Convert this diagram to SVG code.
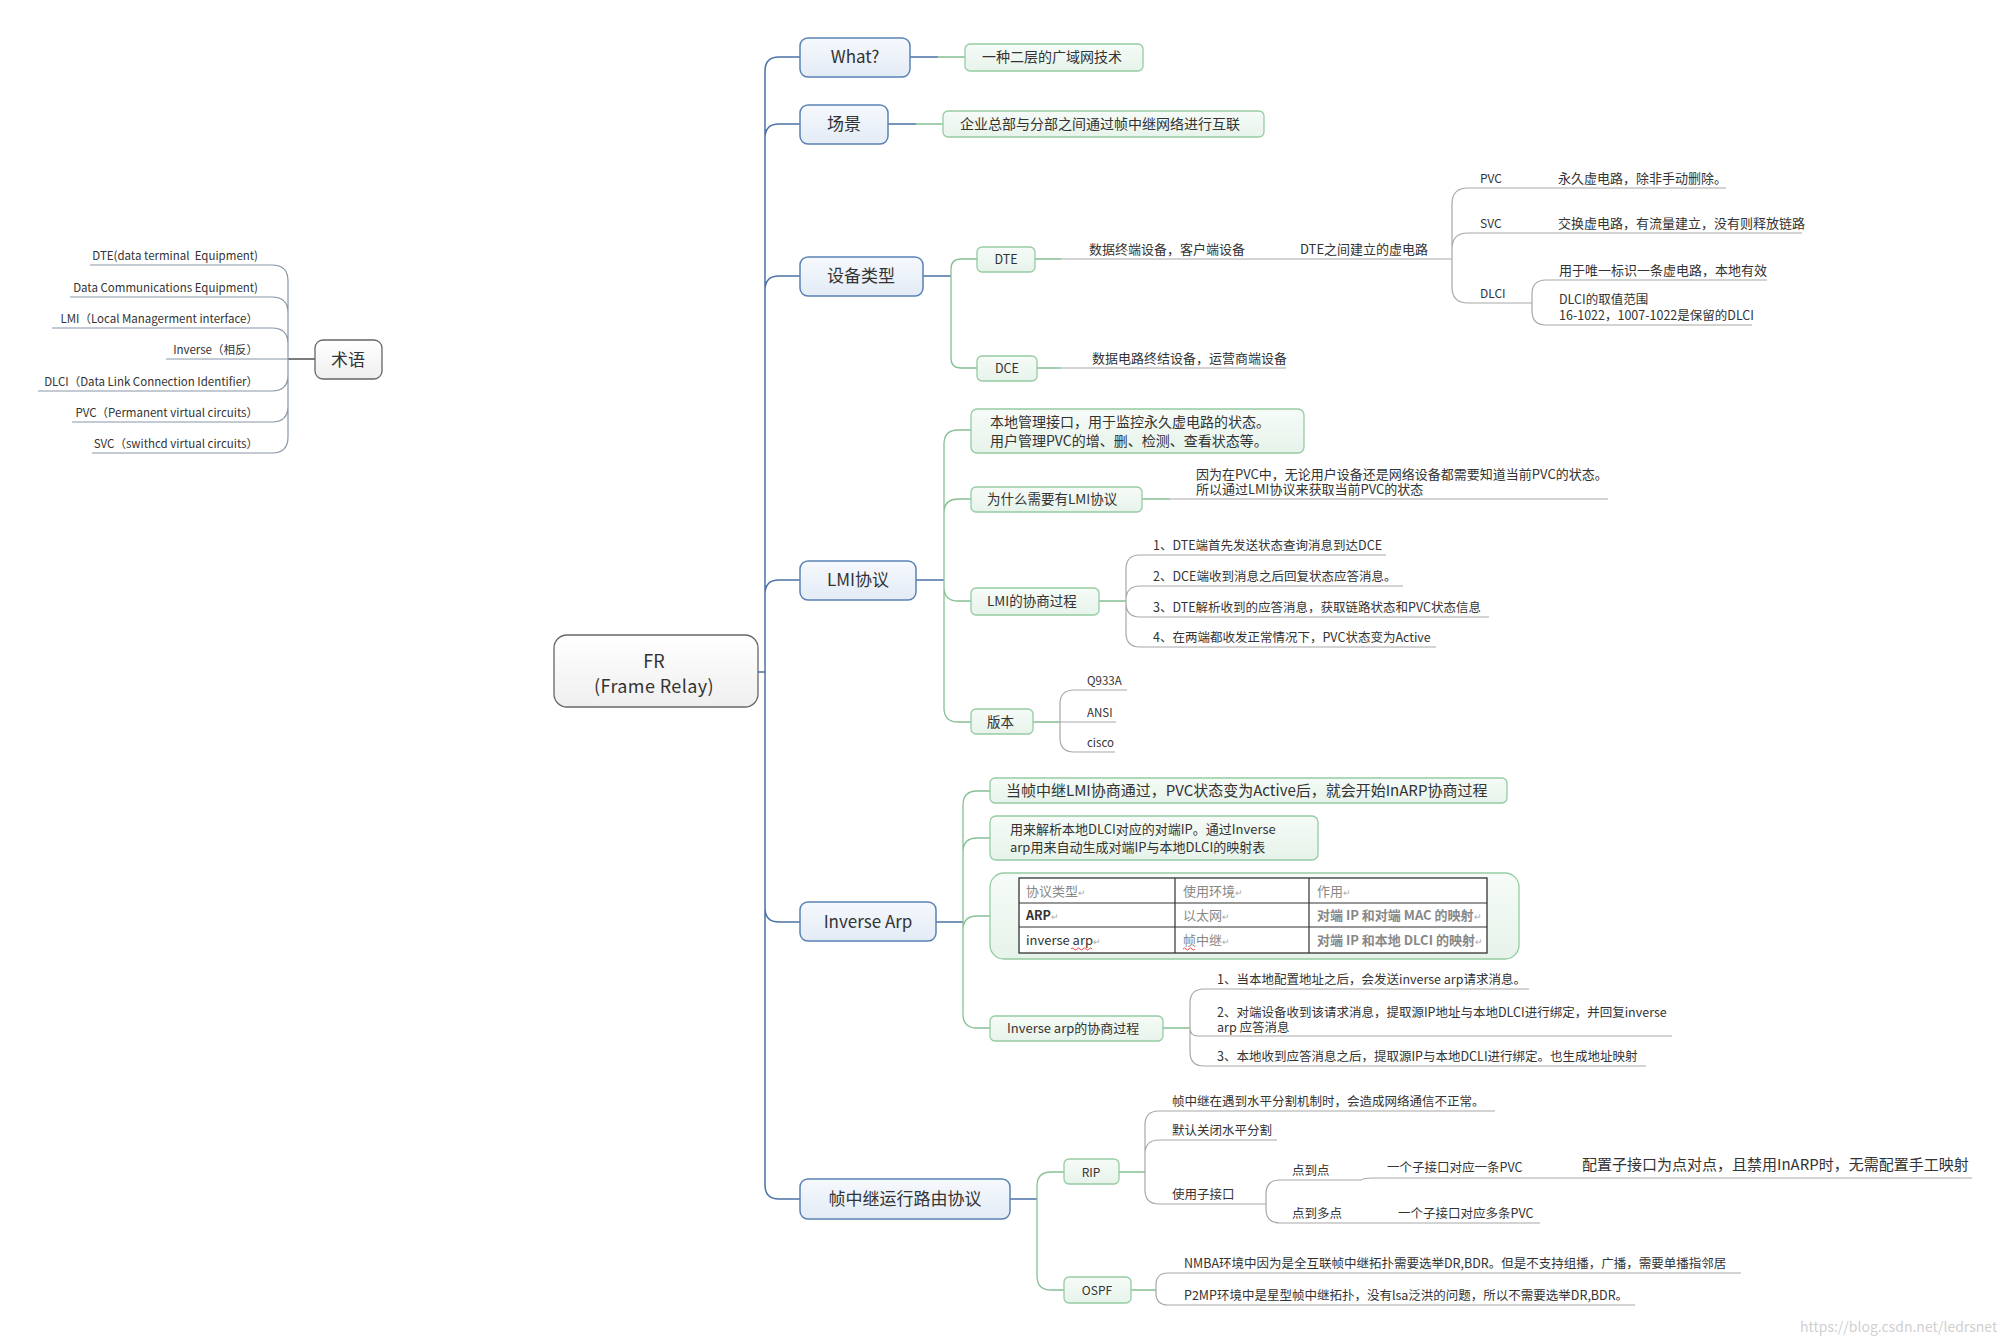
<svg xmlns="http://www.w3.org/2000/svg" width="2010" height="1344" viewBox="0 0 2010 1344">
<defs>
<linearGradient id="gb" x1="0" y1="0" x2="0" y2="1"><stop offset="0" stop-color="#f6f9fd"/><stop offset="1" stop-color="#e3ebf6"/></linearGradient>
<linearGradient id="gg" x1="0" y1="0" x2="0" y2="1"><stop offset="0" stop-color="#f6fbf7"/><stop offset="1" stop-color="#e6f3ea"/></linearGradient>
<linearGradient id="gw" x1="0" y1="0" x2="0" y2="1"><stop offset="0" stop-color="#ffffff"/><stop offset="1" stop-color="#efefef"/></linearGradient>
</defs>
<style>
text{font-family:"Noto Sans CJK SC","Noto Sans",sans-serif;fill:#333;}
.bb{fill:url(#gb);stroke:#5a82b4;stroke-width:1.5;}
.gb{fill:url(#gg);stroke:#95cca3;stroke-width:1.3;}
.wb{fill:url(#gw);stroke:#666;stroke-width:1.3;}
.mt{font-size:17px;text-anchor:middle;}
.gt{font-size:14px;}
.lt{font-size:12.5px;}
.st{font-size:12px;}
.cb{fill:none;stroke:#4a72a6;stroke-width:1.5;}
.cg{fill:none;stroke:#86c095;stroke-width:1.3;}
.cy{fill:none;stroke:#a8a8a8;stroke-width:1.2;}
.cs{fill:none;stroke:#8796a8;stroke-width:1.2;}
.tg{fill:#888;font-size:13px;}
</style>

<g id="connectors">
<!-- trunk -->
<path class="cb" d="M758 672H765M765 71V1185M765 71Q765 57 779 57H800M765 138Q765 124 779 124H800M765 290Q765 276 779 276H800M765 594Q765 580 779 580H800M765 908Q765 922 779 922H800M765 1185Q765 1199 779 1199H800"/>
<!-- what / scene -->
<path class="cb" d="M910 57H938M888 124H916"/>
<path class="cg" d="M938 57H965M916 124H943"/>
<!-- terms -->
<path d="M315 359H288" fill="none" stroke="#333" stroke-width="1.3"/>
<path class="cs" d="M288 281V437M288 281Q288 265 272 265H90M288 313Q288 297 272 297H70M288 344Q288 328 272 328H52M288 359H166M288 375Q288 391 272 391H38M288 406Q288 422 272 422H72M288 437Q288 453 272 453H92"/>
<!-- device types -->
<path class="cb" d="M923 276H951"/>
<path class="cg" d="M951 269V358M951 269Q951 259 961 259H977M951 358Q951 368 961 368H977M1035 259H1061M1037 368H1061"/>
<path class="cy" d="M1061 259H1452M1061 368H1286M1452 204V287M1452 204Q1452 188 1468 188H1726M1452 249Q1452 233 1468 233H1802M1452 287Q1452 303 1468 303H1532M1532 294V311M1532 294Q1532 280 1546 280H1767M1532 311Q1532 325 1546 325H1752"/>
<!-- LMI -->
<path class="cb" d="M916 580H944"/>
<path class="cg" d="M944 444V708M944 444Q944 430 958 430H971M944 513Q944 499 958 499H971M944 587Q944 601 958 601H971M944 708Q944 722 958 722H971M1142 499H1170M1099 601H1126M1033 722H1060"/>
<path class="cy" d="M1170 499H1608M1126 569V633M1126 569Q1126 555 1140 555H1386M1126 600Q1126 586 1140 586H1403M1126 603Q1126 617 1140 617H1489M1126 633Q1126 647 1140 647H1436M1060 704V738M1060 704Q1060 690 1074 690H1127M1060 722H1116M1060 738Q1060 752 1074 752H1115"/>
<!-- Inverse Arp -->
<path class="cb" d="M936 922H963"/>
<path class="cg" d="M963 805V1014M963 805Q963 791 977 791H990M963 852Q963 838 977 838H990M963 930Q963 916 977 916H990M963 1014Q963 1028 977 1028H990M1163 1028H1190"/>
<path class="cy" d="M1190 1003V1052M1190 1003Q1190 989 1204 989H1529M1190 1028Q1190 1036 1198 1036H1672M1190 1052Q1190 1066 1204 1066H1646"/>
<!-- routing -->
<path class="cb" d="M1010 1199H1037"/>
<path class="cg" d="M1037 1186V1276M1037 1186Q1037 1172 1051 1172H1064M1037 1276Q1037 1290 1051 1290H1064M1119 1172H1145M1131 1290H1156"/>
<path class="cy" d="M1145 1125V1190M1145 1125Q1145 1111 1159 1111H1495M1145 1154Q1145 1140 1159 1140H1277M1145 1190Q1145 1204 1159 1204H1266M1266 1194V1209M1266 1194Q1266 1180 1280 1180H1361Q1364 1178 1372 1178H1972M1266 1209Q1266 1223 1280 1223H1540M1156 1285V1293M1156 1285Q1156 1273 1168 1273H1741M1156 1293Q1156 1305 1168 1305H1635"/>
</g>

<g id="fr"><rect class="wb" x="554" y="635" width="204" height="72" rx="13"/><text class="mt" x="654" y="668" font-size="18" style="font-size:18px">FR</text><text class="mt" x="654" y="693" style="font-size:18px;letter-spacing:0.4px">(Frame Relay)</text></g>

<g id="terms"><rect class="wb" x="315" y="340" width="67" height="39" rx="8"/><text class="mt" x="348" y="366">术语</text></g>
<g id="terms-items" class="st">
<text x="258" y="260" text-anchor="end" xml:space="preserve" font-size="11.5">DTE(data terminal  Equipment)</text>
<text x="258" y="292" text-anchor="end" font-size="11.5">Data Communications Equipment)</text>
<text x="258" y="323" text-anchor="end" font-size="11.5">LMI（Local Managerment interface）</text>
<text x="258" y="354" text-anchor="end" font-size="11.5">Inverse（相反）</text>
<text x="258" y="386" text-anchor="end" font-size="11.5">DLCI（Data Link Connection Identifier）</text>
<text x="258" y="417" text-anchor="end" font-size="11.5">PVC（Permanent virtual circuits）</text>
<text x="258" y="448" text-anchor="end" font-size="11.5">SVC（swithcd virtual circuits）</text>
</g>

<g id="what"><rect class="bb" x="800" y="38" width="110" height="39" rx="8"/><text class="mt" x="855" y="63">What?</text></g>
<g id="what-a"><rect class="gb" x="965" y="44" width="178" height="27" rx="5"/><text class="gt" x="982" y="62">一种二层的广域网技术</text></g>

<g id="scene"><rect class="bb" x="800" y="105" width="88" height="39" rx="8"/><text class="mt" x="844" y="130">场景</text></g>
<g id="scene-a"><rect class="gb" x="943" y="111" width="321" height="26" rx="5"/><text class="gt" x="960" y="129">企业总部与分部之间通过帧中继网络进行互联</text></g>

<g id="devtype"><rect class="bb" x="800" y="257" width="123" height="39" rx="8"/><text class="mt" x="861" y="282">设备类型</text></g>
<g id="dte"><rect class="gb" x="977" y="247" width="58" height="25" rx="5"/><text class="lt" x="1006" y="264" text-anchor="middle">DTE</text></g>
<g id="dce"><rect class="gb" x="977" y="356" width="60" height="25" rx="5"/><text class="lt" x="1007" y="373" text-anchor="middle">DCE</text></g>
<g id="dev-leaves" font-size="13">
<text x="1089" y="254" font-size="13">数据终端设备，客户端设备</text>
<text x="1300" y="254" font-size="13">DTE之间建立的虚电路</text>
<text x="1480" y="183" font-size="12">PVC</text>
<text x="1558" y="183" font-size="13">永久虚电路，除非手动删除。</text>
<text x="1480" y="228" font-size="12">SVC</text>
<text x="1558" y="228" font-size="13">交换虚电路，有流量建立，没有则释放链路</text>
<text x="1480" y="298" font-size="12">DLCI</text>
<text x="1559" y="275" font-size="13">用于唯一标识一条虚电路，本地有效</text>
<text x="1559" y="304" font-size="12.5">DLCI的取值范围</text>
<text x="1559" y="320" font-size="12.5">16-1022，1007-1022是保留的DLCI</text>
<text x="1092" y="363" font-size="13">数据电路终结设备，运营商端设备</text>
</g>

<g id="lmi"><rect class="bb" x="800" y="561" width="116" height="39" rx="8"/><text class="mt" x="858" y="586">LMI协议</text></g>
<g id="lmi-def"><rect class="gb" x="971" y="409" width="333" height="44" rx="6"/><text class="gt" x="990" y="427">本地管理接口，用于监控永久虚电路的状态。</text><text class="gt" x="990" y="446">用户管理PVC的增、删、检测、查看状态等。</text></g>
<g id="lmi-why"><rect class="gb" x="971" y="487" width="171" height="25" rx="5"/><text x="987" y="504" font-size="13.5">为什么需要有LMI协议</text></g>
<g id="lmi-proc"><rect class="gb" x="971" y="588" width="128" height="27" rx="5"/><text x="987" y="606" font-size="13.5">LMI的协商过程</text></g>
<g id="lmi-ver"><rect class="gb" x="971" y="709" width="62" height="25" rx="5"/><text x="987" y="727" font-size="13.5">版本</text></g>
<g id="lmi-leaves">
<text x="1196" y="479" font-size="13">因为在PVC中，无论用户设备还是网络设备都需要知道当前PVC的状态。</text>
<text x="1196" y="494" font-size="13">所以通过LMI协议来获取当前PVC的状态</text>
<text x="1153" y="550" font-size="12.5">1、DTE端首先发送状态查询消息到达DCE</text>
<text x="1153" y="581" font-size="12.5">2、DCE端收到消息之后回复状态应答消息。</text>
<text x="1153" y="612" font-size="12.5">3、DTE解析收到的应答消息，获取链路状态和PVC状态信息</text>
<text x="1153" y="642" font-size="12.5">4、在两端都收发正常情况下，PVC状态变为Active</text>
<text x="1087" y="685" font-size="11.5">Q933A</text>
<text x="1087" y="717" font-size="11.5">ANSI</text>
<text x="1087" y="747" font-size="11.5">cisco</text>
</g>

<g id="iarp"><rect class="bb" x="800" y="902" width="136" height="39" rx="8"/><text class="mt" x="868" y="928">Inverse Arp</text></g>
<g id="iarp-when"><rect class="gb" x="990" y="778" width="517" height="25" rx="5"/><text x="1006" y="796" font-size="15">当帧中继LMI协商通过，PVC状态变为Active后，就会开始InARP协商过程</text></g>
<g id="iarp-def"><rect class="gb" x="990" y="816" width="328" height="44" rx="6"/><text x="1010" y="834" font-size="13">用来解析本地DLCI对应的对端IP。通过Inverse</text><text x="1010" y="852" font-size="13">arp用来自动生成对端IP与本地DLCI的映射表</text></g>
<g id="iarp-table">
<rect class="gb" x="990" y="873" width="529" height="86" rx="14"/>
<rect x="1019" y="878" width="468" height="75" fill="#fff" stroke="#333" stroke-width="1.3"/>
<path d="M1019 903H1487M1019 927H1487M1175 878V953M1309 878V953" stroke="#333" stroke-width="1.2" fill="none"/>
<text x="1026" y="896" class="tg">协议类型<tspan font-size="9" fill="#aaa">↵</tspan></text>
<text x="1183" y="896" class="tg">使用环境<tspan font-size="9" fill="#aaa">↵</tspan></text>
<text x="1317" y="896" class="tg">作用<tspan font-size="9" fill="#aaa">↵</tspan></text>
<text x="1026" y="920" font-size="12.5" font-weight="bold" fill="#333">ARP<tspan font-size="9" fill="#aaa" font-weight="normal">↵</tspan></text>
<text x="1183" y="920" class="tg">以太网<tspan font-size="9" fill="#aaa">↵</tspan></text>
<text x="1317" y="920" class="tg" font-weight="bold" fill="#777">对端 IP 和对端 MAC 的映射<tspan font-size="9" fill="#aaa" font-weight="normal">↵</tspan></text>
<text x="1026" y="945" font-size="13" fill="#222">inverse arp<tspan font-size="9" fill="#aaa">↵</tspan></text>
<text x="1183" y="945" class="tg">帧中继<tspan font-size="9" fill="#aaa">↵</tspan></text>
<text x="1317" y="945" class="tg" font-weight="bold" fill="#777">对端 IP 和本地 DLCI 的映射<tspan font-size="9" fill="#aaa" font-weight="normal">↵</tspan></text>
<path d="M1071 949q1.5 -2 3 0t3 0t3 0t3 0t3 0t3 0t3 0M1183 949q1.5 -2 3 0t3 0t3 0t3 0" stroke="#e33" stroke-width="0.9" fill="none"/>
</g>
<g id="iarp-proc"><rect class="gb" x="990" y="1016" width="173" height="25" rx="5"/><text x="1007" y="1033" font-size="13">Inverse arp的协商过程</text></g>
<g id="iarp-leaves" font-size="12.5">
<text x="1217" y="984" font-size="12.5">1、当本地配置地址之后，会发送inverse arp请求消息。</text>
<text x="1217" y="1017" font-size="12.5">2、对端设备收到该请求消息，提取源IP地址与本地DLCI进行绑定，并回复inverse</text>
<text x="1217" y="1032" font-size="12.5">arp 应答消息</text>
<text x="1217" y="1061" font-size="12.5">3、本地收到应答消息之后，提取源IP与本地DCLI进行绑定。也生成地址映射</text>
</g>

<g id="route"><rect class="bb" x="800" y="1179" width="210" height="40" rx="8"/><text class="mt" x="905" y="1205">帧中继运行路由协议</text></g>
<g id="rip"><rect class="gb" x="1064" y="1159" width="55" height="25" rx="5"/><text x="1091" y="1177" font-size="12" text-anchor="middle">RIP</text></g>
<g id="ospf"><rect class="gb" x="1064" y="1277" width="67" height="26" rx="5"/><text x="1097" y="1295" font-size="12" text-anchor="middle">OSPF</text></g>
<g id="route-leaves">
<text x="1172" y="1106" font-size="12.5">帧中继在遇到水平分割机制时，会造成网络通信不正常。</text>
<text x="1172" y="1135" font-size="12.5">默认关闭水平分割</text>
<text x="1172" y="1199" font-size="12.5">使用子接口</text>
<text x="1292" y="1175" font-size="12.5">点到点</text>
<text x="1387" y="1172" font-size="12.5">一个子接口对应一条PVC</text>
<text x="1582" y="1170" font-size="15">配置子接口为点对点，且禁用InARP时，无需配置手工映射</text>
<text x="1292" y="1218" font-size="12.5">点到多点</text>
<text x="1398" y="1218" font-size="12.5">一个子接口对应多条PVC</text>
<text x="1184" y="1268" font-size="12.5">NMBA环境中因为是全互联帧中继拓扑需要选举DR,BDR。但是不支持组播，广播，需要单播指邻居</text>
<text x="1184" y="1300" font-size="12.5">P2MP环境中是星型帧中继拓扑，没有lsa泛洪的问题，所以不需要选举DR,BDR。</text>
</g>
<text x="1800" y="1332" font-size="14" style="fill:#d0d0d0">https://blog.csdn.net/ledrsnet</text>
</svg>
